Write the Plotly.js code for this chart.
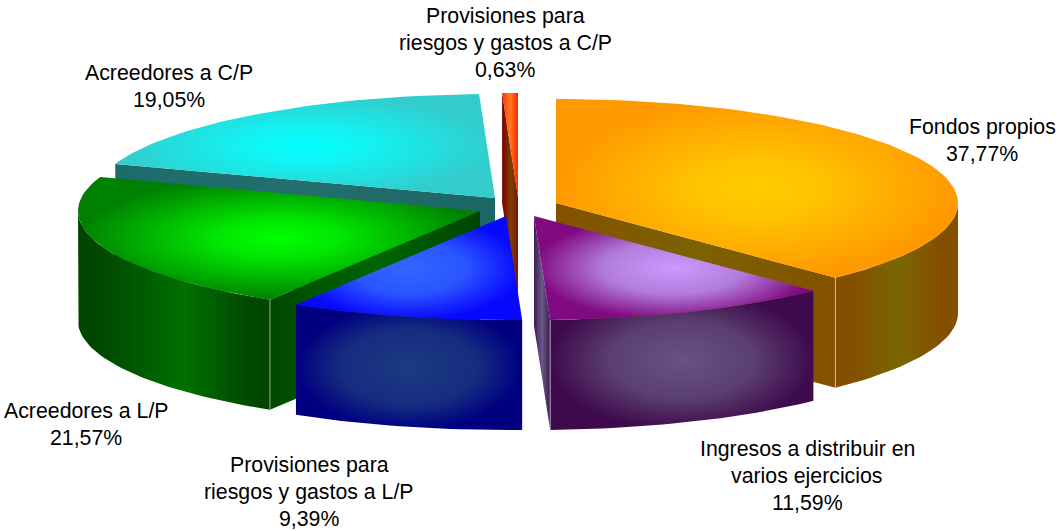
<!DOCTYPE html>
<html>
<head>
<meta charset="utf-8">
<script src="https://cdn.plot.ly/plotly-3.0.1.min.js"></script>
<style>html,body{margin:0;padding:0;background:#fff}</style>
</head>
<body>
<div id="chart" style="width:1059px;height:531px"></div>
<script>
// --- data (clockwise from 12 o'clock) ---
const categories = ["Fondos propios", "Ingresos a distribuir en varios ejercicios", "Provisiones para riesgos y gastos a L/P", "Acreedores a L/P", "Acreedores a C/P", "Provisiones para riesgos y gastos a C/P"];
const values = [37.77, 11.59, 9.39, 21.57, 19.05, 0.63];

// --- label layout ---
const labelLines = [["Fondos propios"], ["Ingresos a distribuir en", "varios ejercicios"], ["Provisiones para", "riesgos y gastos a L/P"], ["Acreedores a L/P"], ["Acreedores a C/P"], ["Provisiones para", "riesgos y gastos a C/P"]];
const labelX = [982, 807, 309, 86, 169, 505];
const labelY = [127, 449, 465, 411, 73, 16];
const labelStep = 27;

// --- exploded slice apex on the plot, ellipse radii and extrusion ---
const apexX = [556, 534, 506, 480, 495, 518];
const apexY = [203, 216, 216, 211, 198, 197];
const radiusX = 402, radiusY = 104, depth = 110;

// --- styles: top, outer wall and cut wall gradients ---
const topStyle = [
  {type:"radial", cs:[[0,"#ffcc00"],[0.3,"#ffc400"],[1,"#ff9900"]]},
  {type:"radial", cs:[[0,"#cc99ff"],[0.5,"#b27cdc"],[1,"#800a80"]]},
  {type:"radial", cs:[[0,"#3366ff"],[0.5,"#2a55ff"],[1,"#0808ff"]]},
  {type:"radial", cs:[[0,"#00ff00"],[0.3,"#00e800"],[1,"#008000"]]},
  {type:"radial", cs:[[0,"#00ffff"],[0.3,"#11f4f4"],[1,"#33cccc"]]},
  {type:"horizontal", cs:[[0,"#ff3300"],[0.5,"#ff7a20"],[1,"#f52a00"]]}
];
const wallStyle = [
  {type:"horizontal", cs:[[0,"#845000"],[0.15,"#845000"],[0.5,"#7a6600"],[0.85,"#845000"],[1,"#845000"]]},
  {type:"radial", cs:[[0,"#685384"],[0.55,"#5a3f70"],[1,"#3f0a4c"]]},
  {type:"radial", cs:[[0,"#1c3a80"],[0.6,"#152d80"],[1,"#000080"]]},
  {type:"horizontal", cs:[[0,"#004400"],[0.12,"#004800"],[0.55,"#007000"],[0.9,"#004800"],[1,"#004400"]]},
  null, null
];
const cutStyle = [
  {type:"horizontal", cs:[[0,"#845000"],[0.5,"#7c6200"],[1,"#845000"]]},
  {type:"horizontal", cs:[[0,"#3a1a55"],[0.5,"#6a5a8a"],[1,"#3a1a50"]]},
  null,
  {type:"horizontal", cs:[[0,"#004800"],[0.5,"#006600"],[1,"#004400"]]},
  {type:"horizontal", cs:[[0,"#1c6c6c"],[0.5,"#246e6e"],[1,"#1a6666"]]},
  {type:"horizontal", cs:[[0,"#7a0000"],[0.55,"#804000"],[1,"#7a1500"]]}
];
const paintOrder = [5, 4, 0, 3, 1, 2];

const rad = d => d * Math.PI / 180;
const total = values.reduce((a, b) => a + b, 0);
const startAngle = [], endAngle = [];
values.reduce((acc, v, i) => { startAngle[i] = acc; endAngle[i] = acc + v / total * 360; return endAngle[i]; }, 0);

const px = (i, a) => apexX[i] + radiusX * Math.sin(rad(a));
const py = (i, a) => apexY[i] - radiusY * Math.cos(rad(a));
function arc(i, a0, a1, dy) {
  const xs = [], ys = [], n = Math.max(2, Math.ceil((a1 - a0) / 1.5));
  for (let k = 0; k <= n; k++) { const a = a0 + (a1 - a0) * k / n; xs.push(px(i, a)); ys.push(py(i, a) + dy); }
  return [xs, ys];
}
function poly(xs, ys, st) {
  const minX = Math.min(...xs), maxX = Math.max(...xs);
  const g = st.type === "radial" ? {type:"radial", colorscale:st.cs}
    : {type:"horizontal", start:minX, stop:maxX, colorscale:st.cs};
  return {type:"scatter", mode:"lines", x:xs.concat(xs[0]), y:ys.concat(ys[0]), fill:"toself",
    fillgradient:g, line:{width:0}, hoverinfo:"skip", showlegend:false};
}
function seam(xs, ys, color, w) {
  return {type:"scatter", mode:"lines", x:xs, y:ys, line:{color:color, width:w}, hoverinfo:"skip", showlegend:false};
}

const traces = [];
paintOrder.forEach(i => {
  const a0 = startAngle[i], a1 = endAngle[i];
  // outer wall (front half of the rim only)
  const lo = Math.max(a0, 90), hi = Math.min(a1, 270);
  if (hi > lo && wallStyle[i]) {
    const t = arc(i, lo, hi, 0), b = arc(i, lo, hi, depth);
    traces.push(poly(t[0].concat(b[0].slice().reverse()), t[1].concat(b[1].slice().reverse()), wallStyle[i]));
  }
  // visible cut wall
  const cutA = Math.sin(rad(a1)) > 1e-6 ? a1 : (Math.sin(rad(a0)) < -1e-6 ? a0 : null);
  if (cutA !== null && cutStyle[i]) {
    const ex = px(i, cutA), ey = py(i, cutA);
    traces.push(poly([apexX[i], ex, ex, apexX[i]], [apexY[i], ey, ey + depth, apexY[i] + depth], cutStyle[i]));
    if (hi > lo) traces.push(seam([ex, ex], [ey, ey + depth], "rgba(225,225,225,0.65)", 1));
  }
  // top face
  const t = arc(i, a0, a1, 0);
  traces.push(poly([apexX[i]].concat(t[0]), [apexY[i]].concat(t[1]), topStyle[i]));
});

const annotations = [];
categories.forEach((c, i) => {
  const lines = labelLines[i].concat(values[i].toFixed(2).replace(".", ",") + "%");
  lines.forEach((text, k) => annotations.push({
    x: labelX[i], y: labelY[i] + k * labelStep, xref:"x", yref:"y", text, showarrow:false,
    xanchor:"center", yanchor:"middle", font:{family:"Liberation Sans, Arial, sans-serif", size:21.3, color:"#000"}
  }));
});

const hidden = {visible:false, fixedrange:true};
Plotly.newPlot("chart", traces, {
  width:1059, height:531, margin:{l:0, r:0, t:0, b:0},
  paper_bgcolor:"#fff", plot_bgcolor:"#fff", showlegend:false,
  xaxis:Object.assign({range:[0, 1059]}, hidden),
  yaxis:Object.assign({range:[531, 0]}, hidden),
  annotations
}, {displayModeBar:false, staticPlot:true});
</script>
</body>
</html>
